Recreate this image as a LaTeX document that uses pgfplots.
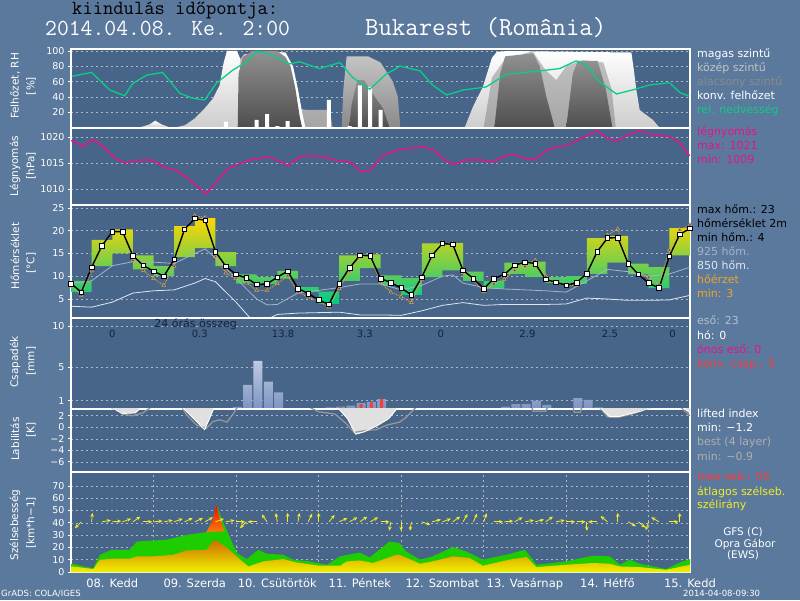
\documentclass[border=0pt]{standalone}
\usepackage{fontspec}
\setmainfont{DejaVu Sans}
\usepackage{pgfplots}
\pgfplotsset{compat=1.18}
\usetikzlibrary{arrows.meta}

\definecolor{bgout}{RGB}{90,121,156}
\definecolor{bgplot}{RGB}{70,101,136}
\definecolor{gridc}{RGB}{175,182,192}
\definecolor{rhgreen}{RGB}{10,205,135}
\definecolor{pmag}{RGB}{235,16,140}
\definecolor{feelor}{RGB}{240,165,40}
\definecolor{tri}{RGB}{40,80,200}
\definecolor{t925}{RGB}{165,180,200}
\definecolor{t850}{RGB}{225,230,240}
\definecolor{raintop}{RGB}{190,202,226}
\definecolor{rainbot}{RGB}{125,148,194}
\definecolor{konvred}{RGB}{255,56,56}
\definecolor{windgreen}{RGB}{30,205,0}
\definecolor{ylw}{RGB}{245,235,40}
\definecolor{txtdark}{RGB}{20,35,60}
\definecolor{midgray}{RGB}{196,196,196}
\definecolor{midgraybot}{RGB}{165,165,165}
\definecolor{lowgray}{RGB}{138,138,138}
\definecolor{wbot}{RGB}{205,205,205}
\definecolor{dometop}{RGB}{145,145,145}
\definecolor{domebot}{RGB}{78,78,78}
\definecolor{legblue}{RGB}{180,192,212}
\definecolor{bandtop}{RGB}{255,215,0}
\definecolor{bandmid}{RGB}{95,215,0}
\definecolor{bandbot}{RGB}{0,200,140}
\definecolor{mtop}{RGB}{205,110,0}
\definecolor{mmid}{RGB}{175,165,20}
\definecolor{mbot}{RGB}{240,240,0}
\definecolor{lifill}{RGB}{224,224,224}
\definecolor{bestgray}{RGB}{150,150,150}
\definecolor{bestleg}{RGB}{175,175,175}

\pgfplotsset{
  panel/.style={
    scale only axis, width=619pt, anchor=south west,
    xmin=0, xmax=7.5,
    axis background/.style={fill=bgplot},
    axis line style={white, line width=1.3pt},
    xtick=\empty, minor xtick={1,2,3,4,5,6,7},
    xminorgrids=true, ymajorgrids=true,
    grid style={draw=gridc, line width=0.6pt, dash pattern=on 2pt off 3pt},
    minor grid style={draw=gridc, line width=0.6pt, dash pattern=on 2pt off 3pt},
    tick align=outside, major tick length=3pt, minor tick length=0pt,
    ytick pos=left, ytick style={white, line width=0.8pt}, xtick style={draw=none},
    yticklabel style={text=white, font=\fontsize{9.5}{10}\selectfont},
    /pgf/number format/assume math mode=true,
    /pgf/number format/1000 sep={},
  }
}

\begin{document}
\begin{tikzpicture}
\fill[bgout] (0pt,0pt) rectangle (800pt,600pt);
\useasboundingbox (0pt,0pt) rectangle (800pt,600pt);

% ---------------- cloud / RH ----------------
\begin{axis}[panel, at={(71pt,472pt)}, height=79pt, ymin=-0.6, ymax=102.6, ytick={20,40,60,80,100}]
\addplot[draw=none, top color=white, bottom color=wbot] coordinates {(0.83,0)(0.95,4)(1.02,9)(1.1,4)(1.2,0)} \closedcycle;
\addplot[draw=none, top color=midgray, bottom color=midgraybot] coordinates {(1.62,0)(1.76,35)(1.9,58)(2.02,85)(2.1,96)(2.6,96)(2.7,60)(2.76,25)(2.85,23)(3.1,23)(3.14,20)(3.17,0)} \closedcycle;
\addplot[draw=none, fill=white] coordinates {(2.3,0)(2.3,100)(2.6,98)(2.69,80)(2.75,50)(2.8,20)(2.84,0)} \closedcycle;
\addplot[draw=none, top color=white, bottom color=wbot] coordinates {(1.26,0)(1.38,3)(1.5,12)(1.62,25)(1.72,38)(1.8,55)(1.85,85)(1.89,100)(2.01,100)(2.05,90)(2.06,0)} \closedcycle;
\addplot[draw=none, top color=dometop, bottom color=domebot] coordinates {(2.02,0)(2.03,70)(2.08,92)(2.2,100)(2.5,100)(2.6,92)(2.66,80)(2.72,50)(2.77,15)(2.8,0)} \closedcycle;
\addplot[draw=none, top color=midgray, bottom color=lowgray] coordinates {(3.28,0)(3.3,50)(3.34,93)(3.6,93)(3.75,85)(3.9,60)(3.96,40)(3.99,0)} \closedcycle;
\addplot[draw=none, top color=dometop, bottom color=domebot] coordinates {(3.37,0)(3.4,30)(3.47,62)(3.55,62)(3.65,45)(3.78,25)(3.86,0)} \closedcycle;
\addplot[draw=none, top color=white, bottom color=wbot] coordinates {(4.77,0)(4.87,27)(4.99,53)(5.1,91)(5.16,99)(5.3,100)(6.79,98)(6.82,75)(6.85,49)(6.89,23)(7.05,10)(7.13,0)} \closedcycle;
\addplot[draw=none, top color=midgray, bottom color=midgraybot] coordinates {(5.0,0)(5.1,65)(5.25,88)(5.59,100)(5.75,75)(5.88,62)(6.0,80)(6.2,88)(6.45,85)(6.55,50)(6.6,0)} \closedcycle;
\addplot[draw=none, top color=dometop, bottom color=domebot] coordinates {(5.13,0)(5.2,70)(5.26,93)(5.6,97)(5.68,80)(5.76,40)(5.86,0)} \closedcycle;
\addplot[draw=none, top color=dometop, bottom color=domebot] coordinates {(6.0,0)(6.08,70)(6.14,87)(6.38,87)(6.48,50)(6.56,0)} \closedcycle;
% convective cloud
\addplot[ybar, bar width=4pt, bar shift=0pt, fill=white, draw=none] coordinates {(1.875,7.6)(2.25,10)(2.375,17.6)(2.5,2)(2.625,8.5)(3.125,36)(3.375,2)(3.5,55)(3.625,53)(3.75,23)};
% relative humidity
\addplot[rhgreen, line width=1.3pt] coordinates {(0.01,67)(0.25,72)(0.47,49)(0.65,41.5)(0.75,57.8)(0.92,68.6)(1.11,72)(1.32,44.7)(1.48,38)(1.62,36)(1.76,57.8)(1.96,75)(2.13,86)(2.26,100)(2.37,97)(2.57,87)(2.65,83)(2.77,86)(3.01,77)(3.26,85)(3.41,65.6)(3.62,50)(3.82,70)(3.94,77)(3.98,80.4)(4.23,74)(4.38,55.6)(4.55,42.5)(4.75,49)(5.03,53)(5.27,69.5)(5.68,74)(5.92,77)(6.12,87)(6.24,82)(6.4,60)(6.61,43.8)(6.8,49)(7.01,55.6)(7.25,58.6)(7.38,45.5)(7.49,41)};
\end{axis}

% ---------------- pressure ----------------
\begin{axis}[panel, at={(71pt,395pt)}, height=77pt, ymin=1006.92, ymax=1021.73, ytick={1010,1015,1020}]
\addplot[pmag, line width=1.4pt] coordinates {(0.0,1019.3)(0.03,1019.2)(0.15,1018.2)(0.26,1019.5)(0.39,1018.2)(0.53,1016.0)(0.65,1015.0)(0.80,1015.5)(0.96,1015.6)(1.04,1015.1)(1.14,1014.1)(1.28,1013.6)(1.40,1012.2)(1.52,1010.7)(1.63,1009.0)(1.76,1011.3)(1.90,1013.9)(2.05,1014.9)(2.17,1015.6)(2.39,1016.2)(2.51,1015.4)(2.63,1014.5)(2.77,1016.2)(2.89,1016.4)(3.05,1016.2)(3.22,1015.5)(3.38,1015.2)(3.52,1013.3)(3.64,1013.7)(3.76,1016.3)(3.86,1016.9)(3.98,1017.6)(4.27,1018.1)(4.39,1017.6)(4.51,1015.8)(4.63,1014.7)(4.79,1015.6)(4.95,1015.6)(5.11,1015.2)(5.25,1016.3)(5.35,1016.7)(5.48,1016.0)(5.62,1015.6)(5.76,1017.4)(5.88,1018.1)(6.0,1018.3)(6.2,1019.9)(6.38,1021.2)(6.5,1019.7)(6.61,1019.2)(6.73,1020.3)(6.89,1021.2)(7.01,1020.6)(7.17,1020.3)(7.27,1019.9)(7.37,1019.0)(7.47,1016.8)(7.5,1016.4)};
\end{axis}

% ---------------- temperature ----------------
\begin{axis}[panel, at={(71pt,282pt)}, height=113pt, ymin=0.82, ymax=25.66, ytick={5,10,15,20,25}]
% 6-hourly max/min temperature band: upper steps, then lower steps backwards
\addplot[draw=none, top color=bandtop, middle color=bandmid, bottom color=bandbot] coordinates {
(0,9.0)(0.25,9.0)(0.25,18.0)(0.5,18.0)(0.5,20.3)(0.75,20.3)(0.75,14.6)(1.0,14.6)(1.0,12.2)(1.25,12.2)(1.25,21.0)(1.5,21.0)(1.5,22.8)(1.75,22.8)(1.75,15.3)(2.0,15.3)(2.0,10.4)(2.25,10.4)(2.25,9.8)(2.5,9.8)(2.5,11.2)(2.75,11.2)(2.75,7.6)(3.0,7.6)(3.0,6.6)(3.25,6.6)(3.25,14.6)(3.5,14.6)(3.5,14.8)(3.75,14.8)(3.75,10.2)(4.0,10.2)(4.0,9.6)(4.25,9.6)(4.25,17.2)(4.5,17.2)(4.5,17.3)(4.75,17.3)(4.75,11.0)(5.0,11.0)(5.0,9.0)(5.25,9.0)(5.25,13.0)(5.5,13.0)(5.5,13.2)(5.75,13.2)(5.75,9.8)(6.0,9.8)(6.0,10.0)(6.25,10.0)(6.25,18.4)(6.5,18.4)(6.5,18.9)(6.75,18.9)(6.75,12.8)(7.0,12.8)(7.0,12.0)(7.25,12.0)(7.25,20.6)(7.5,20.6)
(7.5,14.6)(7.25,14.6)(7.25,7.4)(7.0,7.4)(7.0,10.4)(6.75,10.4)(6.75,13.0)(6.5,13.0)(6.5,10.5)(6.25,10.5)(6.25,8.3)(6.0,8.3)(6.0,8.5)(5.75,8.5)(5.75,9.8)(5.5,9.8)(5.5,10.5)(5.25,10.5)(5.25,7.3)(5.0,7.3)(5.0,9.0)(4.75,9.0)(4.75,11.3)(4.5,11.3)(4.5,9.8)(4.25,9.8)(4.25,5.9)(4.0,5.9)(4.0,8.0)(3.75,8.0)(3.75,11.8)(3.5,11.8)(3.5,9.0)(3.25,9.0)(3.25,3.9)(3.0,3.9)(3.0,6.5)(2.75,6.5)(2.75,9.5)(2.5,9.5)(2.5,8.3)(2.25,8.3)(2.25,8.4)(2.0,8.4)(2.0,12.2)(1.75,12.2)(1.75,16.2)(1.5,16.2)(1.5,14.2)(1.25,14.2)(1.25,10.0)(1.0,10.0)(1.0,11.5)(0.75,11.5)(0.75,15.0)(0.5,15.0)(0.5,12.2)(0.25,12.2)(0.25,6.5)(0,6.5)} -- cycle;
\addplot[t925, line width=0.8pt] coordinates {(0,8.4)(0.25,9.0)(0.5,12.3)(0.75,13.2)(1.0,13.1)(1.25,12.8)(1.5,15.0)(1.625,16.0)(1.75,14.0)(2.0,9.5)(2.25,5.0)(2.375,3.7)(2.5,3.8)(2.75,6.3)(3.0,6.9)(3.25,7.5)(3.5,8.3)(3.75,8.3)(4.0,7.0)(4.25,8.0)(4.5,10.0)(4.625,10.3)(4.75,8.5)(5.0,7.5)(5.25,7.2)(5.5,7.0)(5.75,6.8)(6.0,6.5)(6.25,9.0)(6.5,11.5)(6.75,11.0)(7.0,10.0)(7.25,10.5)(7.5,12.0)};
\addplot[t850, line width=0.8pt] coordinates {(0,3.4)(0.25,3.2)(0.5,4.3)(0.75,6.3)(1.0,6.8)(1.25,7.0)(1.5,8.5)(1.625,9.5)(1.75,8.8)(2.0,4.3)(2.2,0.2)(2.35,0.3)(2.5,1.6)(2.75,1.9)(3.0,2.0)(3.25,2.1)(3.5,1.5)(3.75,1.5)(4.0,1.4)(4.25,2.4)(4.5,3.6)(4.75,4.2)(5.0,3.6)(5.25,3.8)(5.5,3.8)(5.75,3.8)(6.0,3.9)(6.25,5.2)(6.5,5.0)(6.75,4.7)(7.0,4.7)(7.25,4.8)(7.5,5.8)};
\addplot[feelor, line width=0.9pt, densely dotted, mark=triangle*, mark size=2.1pt, mark options={solid, fill=tri, draw=feelor, line width=0.5pt}] table {
x y
0.000 7.8
0.125 5.8
0.250 11.2
0.375 16.2
0.500 19.8
0.625 19.9
0.750 13.5
0.875 11.3
1.000 9.5
1.125 8.0
1.250 12.2
1.375 20.0
1.500 23.3
1.625 22.9
1.750 14.3
1.875 10.7
2.000 9.5
2.125 8.5
2.250 6.9
2.375 6.9
2.500 8.4
2.625 10.1
2.750 6.5
2.875 5.4
3.000 4.5
3.125 3.2
3.250 7.3
3.375 11.0
3.500 14.2
3.625 14.3
3.750 8.6
3.875 6.5
4.000 5.5
4.125 4.2
4.250 9.2
4.375 14.3
4.500 17.3
4.625 17.1
4.750 10.8
4.875 9.1
5.000 6.7
5.125 8.3
5.250 9.3
5.375 11.3
5.500 12.2
5.625 13.5
5.750 10.0
5.875 8.6
6.000 7.9
6.125 8.0
6.250 10.8
6.375 15.4
6.500 19.0
6.625 20.4
6.750 12.8
6.875 10.4
7.000 9.8
7.125 8.2
7.250 15.8
7.375 20.2
7.500 21.3
};
\addplot[black, line width=1.4pt, mark=square*, mark size=2.3pt, mark options={fill=white, draw=black, line width=0.6pt}] table {
x y
0.000 8.4
0.125 6.5
0.250 12.0
0.375 16.7
0.500 19.8
0.625 19.8
0.750 14.5
0.875 12.4
1.000 11.1
1.125 10.0
1.250 13.7
1.375 20.3
1.500 22.7
1.625 22.3
1.750 15.4
1.875 12.2
2.000 10.4
2.125 9.6
2.250 8.2
2.375 8.3
2.500 9.8
2.625 11.1
2.750 7.3
2.875 6.2
3.000 4.8
3.125 3.8
3.250 8.4
3.375 11.8
3.500 14.6
3.625 14.5
3.750 9.5
3.875 8.6
4.000 7.4
4.125 5.9
4.250 9.8
4.375 14.6
4.500 17.2
4.625 17.0
4.750 11.3
4.875 9.5
5.000 7.3
5.125 9.5
5.250 10.4
5.375 12.4
5.500 13.1
5.625 12.8
5.750 9.3
5.875 8.7
6.000 8.0
6.125 8.6
6.250 10.6
6.375 15.4
6.500 18.4
6.625 18.5
6.750 12.8
6.875 10.4
7.000 8.5
7.125 7.4
7.250 14.4
7.375 19.2
7.500 20.5
};
\end{axis}

% ---------------- precipitation ----------------
\begin{axis}[panel, at={(71pt,191pt)}, height=91pt, ymin=0, ymax=10.96, ytick={1,5,10}]
\addplot[ybar, bar width=9pt, bar shift=0pt, draw=none, top color=raintop, bottom color=rainbot] coordinates {(2.015,0.25)(2.14,2.9)(2.265,5.8)(2.39,3.3)(2.515,2.0)(3.14,0.2)(3.265,0.3)(3.39,0.4)(3.515,0.7)(3.64,0.85)(3.765,1.2)(5.265,0.3)(5.39,0.6)(5.515,0.6)(5.64,1.0)(5.765,0.5)(6.14,1.3)(6.265,1.1)(6.39,0.2)};
\addplot[ybar, bar width=3pt, bar shift=0pt, draw=none, fill=konvred] coordinates {(2.015,0.12)(2.515,0.12)(3.14,0.15)(3.265,0.2)(3.39,0.1)(3.515,0.6)(3.64,0.8)(3.765,1.2)};
\node[anchor=base, text=txtdark, font=\fontsize{11}{12}\selectfont] at (axis cs:1.51,9.8) {24 órás összeg};
\node[anchor=base, text=txtdark, font=\fontsize{10}{12}\selectfont] at (axis cs:0.5,8.67) {0};
\node[anchor=base, text=txtdark, font=\fontsize{10}{12}\selectfont] at (axis cs:1.56,8.67) {0.3};
\node[anchor=base, text=txtdark, font=\fontsize{10}{12}\selectfont] at (axis cs:2.57,8.67) {13.8};
\node[anchor=base, text=txtdark, font=\fontsize{10}{12}\selectfont] at (axis cs:3.56,8.67) {3.3};
\node[anchor=base, text=txtdark, font=\fontsize{10}{12}\selectfont] at (axis cs:4.48,8.67) {0};
\node[anchor=base, text=txtdark, font=\fontsize{10}{12}\selectfont] at (axis cs:5.53,8.67) {2.9};
\node[anchor=base, text=txtdark, font=\fontsize{10}{12}\selectfont] at (axis cs:6.53,8.67) {2.5};
\node[anchor=base, text=txtdark, font=\fontsize{10}{12}\selectfont] at (axis cs:7.29,8.67) {0};
\end{axis}

% ---------------- stability ----------------
\begin{axis}[panel, at={(71pt,128pt)}, height=63pt, ymin=-7.77, ymax=3.18, ytick={-6,-4,-2,0,2}, yticklabels={−6,−4,−2,0,2}]
\addplot[draw=none, fill=lifill] coordinates {(0,3.6)(0.48,3.6)(0.62,2.4)(0.78,2.5)(0.86,3.6)(1.34,3.6)(1.62,-0.4)(1.74,3.6)(3.22,3.6)(3.35,1.5)(3.45,-1.2)(3.55,-0.8)(3.7,0.2)(3.85,1.5)(3.97,3.6)(6.4,3.6)(6.52,1.9)(6.65,1.9)(6.9,2.8)(7.05,3.6)(7.4,3.6)(7.5,2.5)(7.5,3.6)} -- cycle;
\addplot[bestgray, line width=1.3pt] coordinates {(0,3.6)(0.47,3.6)(0.63,2.3)(0.75,2.0)(0.87,2.5)(0.98,3.6)(1.34,3.6)(1.4,2.2)(1.52,0.4)(1.64,-0.2)(1.72,1.0)(1.8,1.3)(1.89,0.9)(1.96,2.2)(2.02,3.6)(2.87,3.6)(3.0,2.7)(3.2,2.3)(3.33,0.7)(3.43,-0.9)(3.55,-0.6)(3.7,-0.4)(3.83,0.4)(3.98,0.9)(4.05,1.6)(4.19,3.6)(5.58,3.6)(5.6,2.8)(5.75,2.8)(5.78,3.6)(6.08,3.6)(6.1,2.6)(6.17,2.6)(6.19,3.6)(6.4,3.6)(6.5,1.8)(6.62,1.7)(6.8,2.3)(7.05,3.6)(7.38,3.6)(7.5,2.0)};
\addplot[white, line width=0.9pt] coordinates {(0,3.6)(0.48,3.6)(0.62,2.4)(0.78,2.5)(0.86,3.6)(1.34,3.6)(1.62,-0.4)(1.74,3.6)(3.22,3.6)(3.35,1.5)(3.45,-1.2)(3.55,-0.8)(3.7,0.2)(3.85,1.5)(3.97,3.6)(6.4,3.6)(6.52,1.9)(6.65,1.9)(6.9,2.8)(7.05,3.6)(7.4,3.6)(7.5,2.5)};
\end{axis}

% ---------------- wind ----------------
\begin{axis}[panel, at={(71pt,28pt)}, height=100pt, ymin=0, ymax=81.3, ytick={0,10,20,30,40,50,60,70},
  xtick={0.5,1.5,2.5,3.5,4.5,5.5,6.5,7.5},
  xticklabels={08. Kedd, 09. Szerda, 10. Csütörtök, 11. Péntek, 12. Szombat, 13. Vasárnap, 14. Hétfő, 15. Kedd},
  xticklabel style={text=white, font=\fontsize{11.5}{12}\selectfont}]
\addplot[draw=none, fill=windgreen] coordinates {(0,6.7)(0.02,6.7)(0.15,4.5)(0.27,3.2)(0.35,14)(0.49,18)(0.71,18)(0.8,24.8)(0.96,25.4)(1.16,26.2)(1.4,30.2)(1.64,32.4)(1.72,42.4)(1.76,55)(1.84,41)(2.01,15.4)(2.13,10.5)(2.27,18)(2.37,14.8)(2.57,14)(2.69,10)(2.89,8.6)(3.1,5.9)(3.26,12.7)(3.5,15.9)(3.62,11.8)(3.86,24.8)(3.98,23.5)(4.06,16.7)(4.23,10)(4.38,12.7)(4.63,20.3)(4.79,16.7)(4.99,10)(5.31,14.6)(5.5,18)(5.64,5.9)(6.0,8.6)(6.32,13.2)(6.53,12.7)(6.65,5.9)(6.77,10)(6.89,6.7)(7.21,2.4)(7.38,7.8)(7.5,10.5)} \closedcycle;
\addplot[draw=none, top color=red, bottom color=orange!80!brown] coordinates {(1.64,32.4)(1.72,42.4)(1.76,55)(1.8,44)(1.86,33)} -- cycle;
\addplot[draw=none, top color=mtop, middle color=mmid, bottom color=mbot] coordinates {(0,4.5)(0.02,4.5)(0.27,2.4)(0.35,10)(0.51,10.8)(0.71,10.8)(0.8,12.7)(1.0,12.7)(1.24,14)(1.4,17.5)(1.64,18)(1.74,26.2)(1.88,20.3)(2.05,10)(2.15,4.5)(2.33,8.6)(2.57,10.5)(2.73,7.8)(3.01,5.1)(3.26,5.1)(3.34,8.6)(3.5,9.4)(3.66,7.3)(3.94,14)(3.98,14)(4.23,6.7)(4.38,8.6)(4.63,12.7)(4.83,11.4)(4.99,5.1)(5.31,10)(5.52,12.2)(5.64,4.0)(6.0,5.9)(6.32,7.3)(6.53,6.7)(6.65,4.5)(6.89,4.0)(7.21,1.8)(7.5,5.9)} \closedcycle;
\addplot[ylw, line width=0.8pt,
  quiver={u=\thisrow{u}, v=\thisrow{v},
    every arrow/.append style={ylw, line width=0.8pt, -{Stealth[length=4pt,width=3.6pt]}}}] table {
x y u v
0.000 40.8 -0.0189 -7.189
0.125 40.8 -0.0771 -5.162
0.250 40.8 0.0095 7.272
0.375 40.8 0.1073 1.268
0.500 40.8 0.1086 0.636
0.625 40.8 0.1024 2.497
0.750 40.8 0.0893 4.187
0.875 40.8 0.109 0
1.000 40.8 0.1086 0.636
1.125 40.8 0.1073 1.268
1.250 40.8 0.1024 2.497
1.375 40.8 0.0988 3.085
1.500 40.8 0.0988 3.085
1.625 40.8 0.0944 3.65
1.750 40.8 0.1024 2.497
1.875 40.8 0.1073 1.268
2.000 40.8 0.109 0
2.125 40.8 -0.0771 -5.162
2.250 40.8 -0.109 0
2.375 40.8 -0.0625 5.980
2.500 40.8 -0.0189 7.189
2.625 40.8 0 7.3
2.750 40.8 0.0189 7.189
2.875 40.8 0.0461 6.616
3.000 40.8 0 7.3
3.125 40.8 0.0701 5.592
3.250 40.8 0.0988 3.085
3.375 40.8 0.0944 3.65
3.500 40.8 0.0893 4.187
3.625 40.8 0.0944 3.65
3.750 40.8 0.109 0
3.875 40.8 -0.0189 -7.189
4.000 40.8 0 -7.3
4.125 40.8 -0.0189 -7.189
4.250 40.8 0.1024 -2.497
4.375 40.8 0.1053 1.889
4.500 40.8 0.1024 2.497
4.625 40.8 0.0893 4.187
4.750 40.8 0.0545 6.322
4.875 40.8 0.0461 6.616
5.000 40.8 0.0373 6.860
5.125 40.8 0.109 0
5.250 40.8 0.1086 0.636
5.375 40.8 0.0944 3.65
5.500 40.8 0.1073 1.268
5.625 40.8 0.1053 1.889
5.750 40.8 0.0893 4.187
5.875 40.8 0.1073 1.268
6.000 40.8 0.109 0
6.125 40.8 0.109 0
6.250 40.8 0 -7.3
6.375 40.8 -0.109 0
6.500 40.8 -0.0835 4.692
6.625 40.8 0 7.3
6.750 40.8 0.0944 -3.65
6.875 40.8 0.0835 -4.692
7.000 40.8 -0.0373 -6.860
7.125 40.8 -0.0944 3.65
7.250 40.8 0.109 0
7.375 40.8 0 7.3
};
\end{axis}

% ---------------- titles ----------------
\node[anchor=base west, inner sep=0pt, font=\ttfamily\fontsize{20}{24}\selectfont, text=black] at (72pt,585pt) {kiindulás időpontja:};
\node[anchor=base west, inner sep=0pt, font=\ttfamily\fontsize{23}{26}\selectfont, text=white] at (45pt,564pt) {2014.04.08. Ke. 2:00};
\node[anchor=base west, inner sep=0pt, font=\ttfamily\fontsize{26}{28}\selectfont, text=white] at (365pt,564pt) {Bukarest (România)};

% ---------------- y labels ----------------
\begin{scope}[every node/.style={rotate=90, text=white, font=\fontsize{10.5}{12}\selectfont, inner sep=0pt}]
\node at (15pt,514pt) {Felhőzet, RH};
\node at (31pt,514pt) {[\%]};
\node at (15pt,434pt) {Légnyomás};
\node at (31pt,434pt) {[hPa]};
\node at (15pt,344pt) {Hőmérséklet};
\node at (31pt,337pt) {[°C]};
\node at (15pt,238pt) {Csapadék};
\node at (31pt,239pt) {[mm]};
\node at (15pt,161pt) {Labilitás};
\node at (31pt,170pt) {[K]};
\node at (15pt,75pt) {Szélsebesség};
\node at (31pt,77pt) {[km*h−1]};
\end{scope}

% ---------------- legends ----------------
\begin{scope}[every node/.style={anchor=base west, inner sep=0pt, font=\fontsize{11}{12}\selectfont}]
\node[text=white] at (697pt,542.5pt) {magas szintű};
\node[text=midgray] at (697pt,528pt) {közép szintű};
\node[text=lowgray] at (697pt,514.5pt) {alacsony szintű};
\node[text=white] at (697pt,500pt) {konv. felhőzet};
\node[text=rhgreen] at (697pt,486.5pt) {rel. nedvesség};
\node[text=pmag] at (697pt,464.5pt) {légnyomás};
\node[text=pmag] at (697pt,450pt) {max: 1021};
\node[text=pmag] at (697pt,436pt) {min: 1009};
\node[text=black] at (697pt,386.7pt) {max hőm.: 23};
\node[text=black] at (697pt,372.7pt) {hőmérséklet 2m};
\node[text=black] at (697pt,358.3pt) {min hőm.: 4};
\node[text=t925] at (697pt,344pt) {925 hőm.};
\node[text=t850] at (697pt,330pt) {850 hőm.};
\node[text=feelor] at (697pt,316.7pt) {hőérzet};
\node[text=feelor] at (697pt,302.3pt) {min: 3};
\node[text=legblue] at (697pt,275pt) {eső: 23};
\node[text=white] at (697pt,260.7pt) {hó: 0};
\node[text=pmag] at (697pt,246.7pt) {ónos eső: 0};
\node[text=konvred] at (697pt,232.7pt) {konv. csap.: 5};
\node[text=white] at (697pt,182.7pt) {lifted index};
\node[text=white] at (697pt,168.3pt) {min: −1.2};
\node[text=bestleg] at (697pt,154pt) {best (4 layer)};
\node[text=bestleg] at (697pt,140pt) {min: −0.9};
\node[text=konvred] at (697pt,119.3pt) {max seb.: 55};
\node[text=ylw] at (697pt,105pt) {átlagos szélseb.};
\node[text=ylw] at (697pt,91.7pt) {szélirány};
\end{scope}
\begin{scope}[every node/.style={anchor=base, inner sep=0pt, text=white, font=\fontsize{10.5}{12}\selectfont}]
\node at (743pt,65pt) {GFS (C)};
\node at (745pt,53pt) {Opra Gábor};
\node at (743pt,42pt) {(EWS)};
\end{scope}
\node[anchor=base west, inner sep=0pt, text=white, font=\fontsize{8.5}{10}\selectfont] at (1pt,4pt) {GrADS: COLA/IGES};
\node[anchor=base west, inner sep=0pt, text=white, font=\fontsize{8.5}{10}\selectfont] at (683pt,4pt) {2014-04-08-09:30};
\end{tikzpicture}
\end{document}
